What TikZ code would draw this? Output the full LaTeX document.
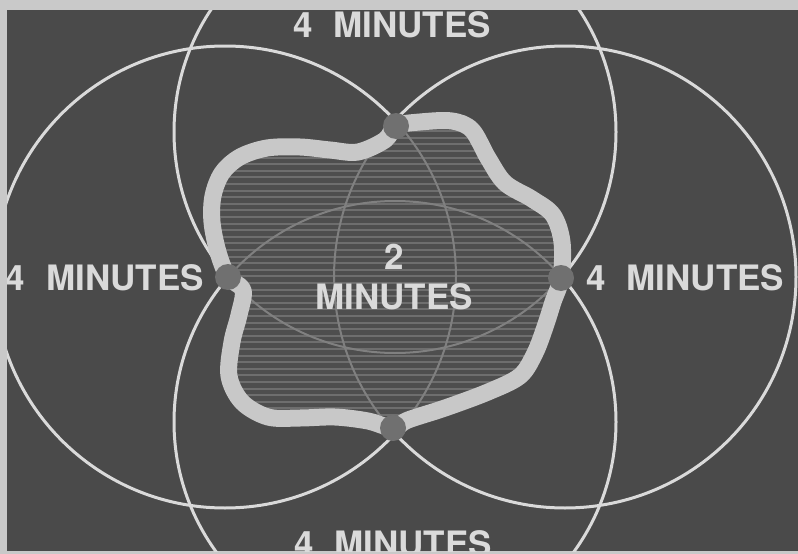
\documentclass[tikz,border=0pt]{standalone}
\usepackage{fontspec}
\newfontfamily\labelfont{TeX Gyre Heros}
\usetikzlibrary{positioning}
\definecolor{papergray}{HTML}{C9C9C9}
\definecolor{fieldgray}{HTML}{4A4A4A}
\definecolor{ringwhite}{HTML}{DADADA}
\definecolor{bandgray}{HTML}{C8C8C8}
\definecolor{blobgray}{HTML}{4E4E4E}
\definecolor{hatchgray}{HTML}{6E6E6E}
\definecolor{innergray}{HTML}{808080}
\definecolor{dotgray}{HTML}{707070}
\tikzset{
  ringline/.style={draw=ringwhite, line width=3pt},
  innerline/.style={draw=innergray, line width=2pt},
  hatchline/.style={draw=hatchgray, line width=2pt},
  bandline/.style={draw=bandgray, line width=17pt, line join=round},
  crossdot/.style={circle, fill=dotgray, minimum size=26pt, inner sep=0pt},
  minlabel/.style={
    font={\labelfont\bfseries\fontsize{35pt}{35pt}\selectfont},
    text=ringwhite,
    inner sep=0pt
  },
  blob/.style={insert path={plot[smooth cycle, tension=0.55] coordinates {
    (396,126) (420,122) (452,121) (472,130) (488,158) (505,183) (532,199)
    (553,215) (562,242) (561,278) (553,302) (545,327) (535,353) (520,376)
    (488,392) (445,408) (408,420) (393,428) (368,421) (335,417) (300,418)
    (268,417) (242,402) (229,376) (232,342) (239,315) (243,290) (228,277)
    (218,252) (212,222) (213,196) (222,173) (240,157) (267,148) (300,147)
    (330,150) (358,152) (385,140)}}}
}

\begin{document}
\begin{tikzpicture}[x=1pt,y=-1pt]
  \useasboundingbox (0,0) rectangle (798,554);
  \fill[papergray] (0,0) rectangle (798,554);
  \fill[fieldgray] (7,10) rectangle (798,551);
  \begin{scope}
    \clip (7,10) rectangle (798,551);
    % 4 minute rings
    \draw[ringline] (225,277) circle[radius=231];
    \draw[ringline] (565,277) circle[radius=231];
    \draw[ringline] (395,132) circle[radius=221];
    \draw[ringline] (395,422) circle[radius=221];
    % 2 minute area
    \fill[blobgray, blob];
    \begin{scope}
      \clip[blob];
      \foreach \y in {118,124.6,...,440}
        \draw[hatchline] (200,\y) -- (580,\y);
      \draw[innerline] (225,277) circle[radius=231];
      \draw[innerline] (565,277) circle[radius=231];
      \draw[innerline] (395,132) circle[radius=221];
      \draw[innerline] (395,422) circle[radius=221];
    \end{scope}
    \draw[bandline, blob];
    \node[crossdot] (dtop) at (396,126) {};
    \node[crossdot] (dleft) at (228,277) {};
    \node[crossdot] (dright) at (561,278) {};
    \node[crossdot] (dbottom) at (393,428) {};
    % labels
    \node[minlabel, anchor=base] (mtop) at (392,37) {4\hspace{0.6em}MINUTES};
    \node[minlabel, anchor=base] (mbottom) at (393,556) {4\hspace{0.6em}MINUTES};
    \node[minlabel, anchor=base east] (mleft) at (204,290) {4\hspace{0.6em}MINUTES};
    \node[minlabel, anchor=base west] (mright) at (586,290) {4\hspace{0.6em}MINUTES};
    \node[minlabel, anchor=base] (ctwo) at (394,269) {2};
    \node[minlabel, below=14pt of ctwo] (cmin) {MINUTES};
  \end{scope}
\end{tikzpicture}
\end{document}
